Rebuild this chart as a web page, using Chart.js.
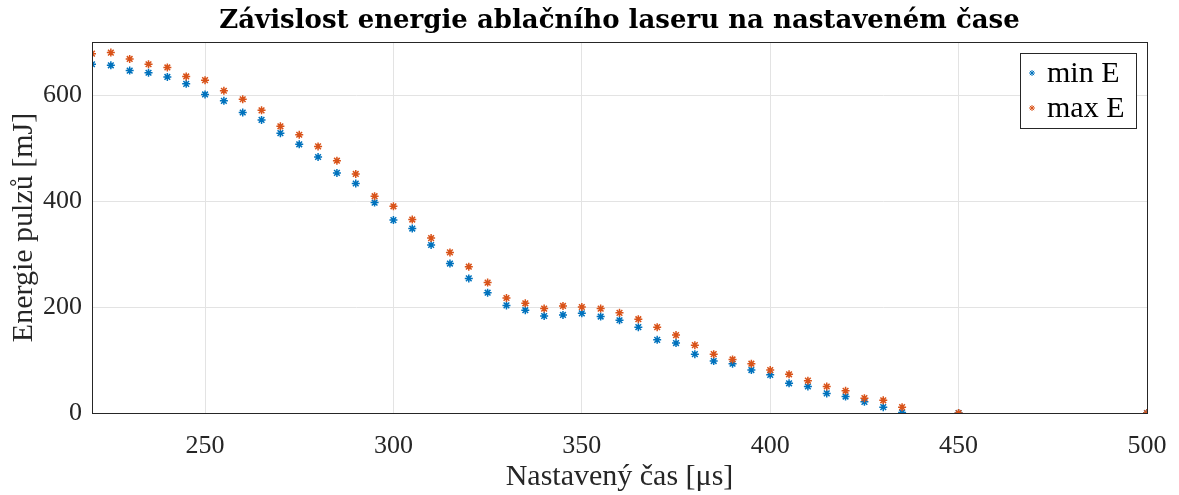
<!DOCTYPE html>
<html>
<head>
<meta charset="utf-8">
<script src="https://cdn.jsdelivr.net/npm/chart.js@4"></script>
<style>
  body { margin: 0; background: #fff; }
  #wrap { width: 1179px; height: 495px; }
</style>
</head>
<body>
<div id="wrap"><canvas id="myChart"></canvas></div>
<script>
// nastavene casy [us]
const casy = [220, 225, 230, 235, 240, 245, 250, 255, 260, 265, 270, 275, 280, 285, 290,
  295, 300, 305, 310, 315, 320, 325, 330, 335, 340, 345, 350, 355, 360, 365, 370, 375,
  380, 385, 390, 395, 400, 405, 410, 415, 420, 425, 430, 435, 450, 500];

const minE = [658, 656, 646, 642, 634, 621, 601, 589, 567, 553, 528, 507, 483, 453, 433,
  397, 364, 348, 317, 282, 254, 227, 203, 194, 183, 185, 188, 182, 175, 162, 138, 132,
  111, 98, 93, 81, 72, 56, 50, 37, 31, 21, 11, 1, 0, 0];

const maxE = [678, 680, 668, 658, 652, 635, 628, 608, 592, 571, 541, 525, 503, 476, 451,
  409, 390, 365, 330, 303, 276, 246, 217, 207, 197, 202, 200, 197, 189, 177, 162, 147,
  128, 111, 101, 93, 81, 73, 61, 50, 42, 28, 24, 11, 0, 0];

const xTicks = [250, 300, 350, 400, 450, 500];
const yTicks = [0, 200, 400, 600];

const nadpis = 'Závislost energie ablačního laseru na nastaveném čase';

const toPoints = (vals) => casy.map((x, i) => ({ x: x, y: vals[i] }));

const FONT = "'Liberation Serif', 'DejaVu Serif', serif";

// nadpis centrovany nad oblasti grafu a ramecek kolem grafu (jako v Matlabu)
const boxPlugin = {
  id: 'box',
  afterDraw(chart) {
    const a = chart.chartArea;
    const c = chart.ctx;
    c.save();
    c.strokeStyle = '#262626';
    c.lineWidth = 1;
    c.strokeRect(a.left + 0.5, a.top + 0.5, a.right - a.left, a.bottom - a.top);
    c.fillStyle = '#000';
    c.font = "bold 26px 'DejaVu Serif', serif";
    c.textAlign = 'center';
    c.textBaseline = 'alphabetic';
    c.fillText(nadpis, (a.left + a.right) / 2, 28);
    c.restore();
  }
};

// legenda uvnitr grafu vpravo nahore
const legendaPlugin = {
  id: 'legenda',
  afterDraw(chart) {
    const a = chart.chartArea;
    const c = chart.ctx;
    const w = 116, h = 75;
    const x = a.right - 11 - w, y = a.top + 11;
    c.save();
    c.fillStyle = '#fff';
    c.fillRect(x, y, w, h);
    c.strokeStyle = '#262626';
    c.lineWidth = 1;
    c.strokeRect(x + 0.5, y + 0.5, w, h);
    c.font = '30px ' + FONT;
    c.textBaseline = 'middle';
    chart.data.datasets.forEach((ds, i) => {
      const cy = y + 20 + i * 35;
      c.strokeStyle = ds.borderColor;
      c.fillStyle = ds.borderColor;
      Chart.helpers.drawPoint(c, { pointStyle: 'star', radius: 3, borderWidth: 1.2 }, x + 12, cy);
      c.fillStyle = '#000';
      c.fillText(ds.label, x + 27, cy + 1);
    });
    c.restore();
  }
};

const ctx = document.getElementById('myChart');

const myChart = new Chart(ctx, {
  type: 'scatter',
  data: {
    datasets: [{
      label: 'min E',
      data: toPoints(minE),
      borderColor: '#0072BD',
      backgroundColor: '#0072BD',
      pointStyle: 'star',
      pointRadius: 4,
      pointBorderWidth: 1.5,
      order: 1
    }, {
      label: 'max E',
      data: toPoints(maxE),
      borderColor: '#D95319',
      backgroundColor: '#D95319',
      pointStyle: 'star',
      pointRadius: 4,
      pointBorderWidth: 1.5,
      order: 0
    }]
  },
  options: {
    responsive: true,
    maintainAspectRatio: false,
    animation: false,
    layout: { padding: { left: 0, right: 32, top: 42, bottom: 0 } },
    plugins: {
      legend: { display: false },
      tooltip: { enabled: false },
      title: { display: false }
    },
    scales: {
      x: {
        type: 'linear',
        min: 220,
        max: 500,
        afterBuildTicks: (scale) => { scale.ticks = xTicks.map(v => ({ value: v })); },
        afterFit: (scale) => {
          scale.height = 82;
          scale.paddingLeft = 0;
          scale.paddingRight = 0;
        },
        grid: { color: '#e3e3e3', drawTicks: false },
        border: { color: '#262626' },
        ticks: {
          color: '#262626',
          padding: 18,
          font: { family: FONT, size: 26 }
        },
        title: {
          display: true,
          text: 'Nastavený čas [μs]',
          color: '#262626',
          font: { family: FONT, size: 30 },
          padding: { top: 0, bottom: 0 }
        }
      },
      y: {
        min: 0,
        max: 700,
        afterBuildTicks: (scale) => { scale.ticks = yTicks.map(v => ({ value: v })); },
        afterFit: (scale) => { scale.width = 92; },
        grid: { color: '#e3e3e3', drawTicks: false },
        border: { color: '#262626' },
        ticks: {
          color: '#262626',
          padding: 10,
          font: { family: FONT, size: 26 }
        },
        title: {
          display: true,
          text: 'Energie pulzů [mJ]',
          color: '#262626',
          font: { family: FONT, size: 30 },
          padding: { top: 6, bottom: 0 }
        }
      }
    }
  },
  plugins: [boxPlugin, legendaPlugin]
});
</script>
</body>
</html>
